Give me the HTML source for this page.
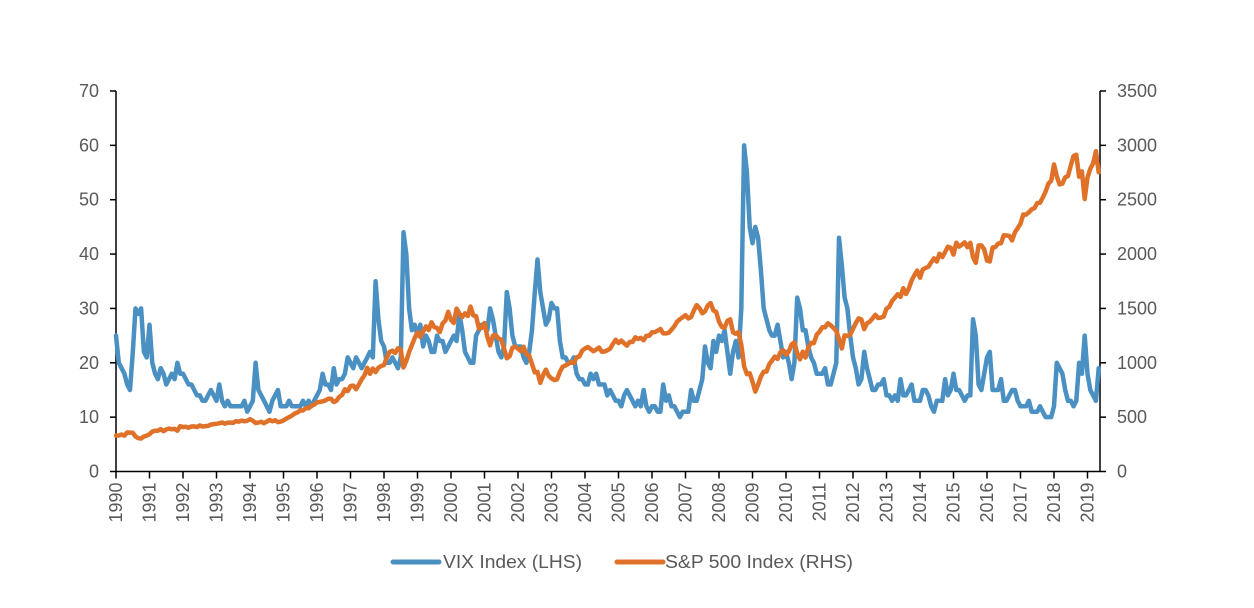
<!DOCTYPE html>
<html><head><meta charset="utf-8"><style>
html,body{margin:0;padding:0;background:#fff;}
svg{display:block;font-family:"Liberation Sans",sans-serif;}
</style></head><body>
<svg id="chart" width="1254" height="608">
<g id="axes"></g>
<g id="series"></g>
<g>
<g>
<line x1="393" y1="562" x2="439" y2="562" stroke="#4a90c2" stroke-width="5" stroke-linecap="round"/>
<text x="443" y="568" font-size="18" fill="#595959" textLength="139" lengthAdjust="spacingAndGlyphs">VIX Index (LHS)</text></g>
<g>
<line x1="617" y1="562" x2="663" y2="562" stroke="#e07128" stroke-width="5" stroke-linecap="round"/>
<text x="665" y="568" font-size="18" fill="#595959" textLength="188" lengthAdjust="spacingAndGlyphs">S&amp;P 500 Index (RHS)</text></g>
</g>
</svg>
<script>
const startYear = 1990;
const leftTicks = [0,10,20,30,40,50,60,70];
const rightTicks = [0,500,1000,1500,2000,2500,3000,3500];
const yearLabels = [1990,1991,1992,1993,1994,1995,1996,1997,1998,1999,2000,2001,2002,2003,2004,2005,2006,2007,2008,2009,2010,2011,2012,2013,2014,2015,2016,2017,2018,2019];
const vix = [
25,20,19,18,16,15,22,30,29,30,22,21,
27,20,18,17,19,18,16,17,18,17,20,18,
18,17,16,16,15,14,14,13,13,14,15,14,
13,16,13,12,13,12,12,12,12,12,13,11,
12,13,20,15,14,13,12,11,13,14,15,12,
12,12,13,12,12,12,12,13,12,13,12,13,
14,15,18,16,16,15,19,16,17,17,18,21,
20,19,21,20,19,20,21,22,21,35,28,24,
23,20,20,21,20,19,21,44,40,30,26,27,
25,27,23,25,24,22,22,25,24,24,22,23,
24,25,24,29,26,22,21,20,20,25,26,27,
27,26,30,28,25,22,21,23,33,30,25,23,
23,23,21,20,22,26,33,39,33,30,27,28,
31,30,30,24,21,21,20,20,21,18,17,17,
16,16,18,17,18,16,16,16,14,15,14,13,
13,12,14,15,14,13,12,13,12,15,12,11,
12,12,11,11,16,13,14,12,12,11,10,11,
11,11,15,13,13,15,17,23,20,19,24,22,
25,24,26,22,18,22,24,21,30,60,55,45,
42,45,43,37,30,28,26,25,25,27,24,21,
22,20,17,20,32,30,26,26,23,21,20,18,
18,18,19,16,16,18,20,43,38,32,30,25,
21,19,16,17,22,19,17,15,15,16,16,17,
14,14,13,14,13,17,14,14,15,16,13,13,
13,15,15,14,12,11,13,13,13,17,14,15,
18,15,15,14,13,14,14,28,25,16,15,18,
21,22,15,15,15,17,13,13,14,15,15,13,
12,12,12,13,11,11,11,12,11,10,10,10,
12,20,19,18,15,13,13,12,13,20,18,25,
18,15,14,13,19];
const sp500 = [
330,331,340,330,360,358,356,322,306,304,322,330,
343,367,375,375,390,371,387,395,388,392,375,417,
408,412,403,414,415,408,424,414,418,419,431,436,
439,443,451,440,450,450,448,463,458,468,462,466,
481,467,445,451,457,444,458,475,462,472,454,459,
470,487,500,514,533,544,562,561,584,581,605,615,
636,640,645,654,669,670,639,651,687,705,757,740,
786,790,757,801,848,885,954,899,947,914,955,970,
980,1049,1101,1111,1090,1133,1120,957,1017,1098,1163,1229,
1279,1238,1286,1335,1301,1372,1328,1320,1282,1362,1388,1469,
1394,1366,1498,1452,1420,1454,1430,1517,1436,1429,1315,1320,
1366,1240,1160,1249,1256,1224,1211,1134,1041,1060,1139,1148,
1130,1107,1147,1076,1067,990,912,916,815,886,936,880,
856,841,848,917,964,975,990,1008,996,1051,1058,1112,
1131,1145,1126,1107,1121,1141,1102,1104,1115,1130,1174,1212,
1181,1204,1180,1157,1192,1191,1234,1220,1229,1207,1249,1248,
1280,1281,1295,1311,1270,1270,1277,1304,1336,1378,1401,1418,
1438,1407,1421,1482,1531,1503,1455,1474,1527,1549,1481,1468,
1378,1331,1323,1386,1400,1280,1267,1283,1165,969,896,903,
826,735,798,873,919,919,987,1021,1057,1036,1096,1115,
1074,1104,1169,1187,1089,1031,1102,1049,1141,1183,1181,1258,
1286,1327,1326,1364,1345,1321,1292,1219,1131,1253,1247,1258,
1312,1366,1408,1398,1310,1362,1379,1407,1441,1412,1416,1426,
1498,1515,1569,1598,1631,1606,1686,1633,1682,1757,1806,1848,
1783,1859,1872,1884,1924,1960,1931,2003,1972,2018,2068,2059,
1995,2105,2068,2086,2107,2063,2104,1972,1920,2079,2080,2044,
1940,1932,2060,2065,2097,2099,2174,2171,2168,2126,2199,2239,
2279,2364,2363,2384,2412,2423,2470,2472,2519,2575,2648,2674,
2824,2714,2641,2648,2705,2718,2816,2902,2914,2712,2760,2507,
2704,2784,2834,2946,2752];

const NS='http://www.w3.org/2000/svg';
const X0=116, PXY=33.5, Y0=471.5, YTOP=91, XR=1100;
const x = t => X0 + (t - startYear) * PXY;
const yL = v => Y0 - v / 70 * (Y0 - YTOP);
const yR = v => Y0 - v / 3500 * (Y0 - YTOP);
function mk(tag, attrs, parent){const e=document.createElementNS(NS,tag);for(const k in attrs)e.setAttribute(k,attrs[k]);parent.appendChild(e);return e;}
const axes=document.getElementById('axes'), series=document.getElementById('series');
const ax=mk('line',{x1:X0,y1:YTOP,x2:X0,y2:Y0,stroke:'#000','stroke-width':1.5},axes);


const ar=mk('line',{x1:XR,y1:YTOP,x2:XR,y2:Y0,stroke:'#000','stroke-width':1.5},axes);


const xa=mk('line',{x1:X0,y1:Y0,x2:XR,y2:Y0,stroke:'#000','stroke-width':1.5},axes);


leftTicks.forEach(v=>{
  mk('line',{x1:X0-6,y1:yL(v),x2:X0,y2:yL(v),stroke:'#000','stroke-width':1.5},axes);
  const t=mk('text',{x:X0-17,y:yL(v)+6,'text-anchor':'end','font-size':18,fill:'#595959'},axes);
  t.textContent=v;
  
  
});
rightTicks.forEach(v=>{
  mk('line',{x1:XR,y1:yR(v),x2:XR+6,y2:yR(v),stroke:'#000','stroke-width':1.5},axes);
  const t=mk('text',{x:XR+17,y:yR(v)+6,'font-size':18,fill:'#595959'},axes);
  t.textContent=v;
  
  
});
yearLabels.forEach(yr=>{
  const px=x(yr);
  mk('line',{x1:px,y1:Y0,x2:px,y2:Y0+7,stroke:'#000','stroke-width':1.5},axes);
  const t=mk('text',{x:0,y:0,'text-anchor':'end','font-size':18,fill:'#595959',transform:`translate(${px+6},${Y0+11}) rotate(-90)`},axes);
  t.textContent=yr;
  
  
});
function path(arr, yf){return arr.map((v,i)=>(i?'L':'M')+x(startYear+i/12).toFixed(1)+','+yf(v).toFixed(1)).join('');}
const pv=mk('path',{d:path(vix,yL),fill:'none',stroke:'#4a90c2','stroke-width':4.5,'stroke-linejoin':'round','stroke-linecap':'round'},series);


const ps=mk('path',{d:path(sp500,yR),fill:'none',stroke:'#e07128','stroke-width':4.5,'stroke-linejoin':'round','stroke-linecap':'round'},series);


</script>
</body></html>
